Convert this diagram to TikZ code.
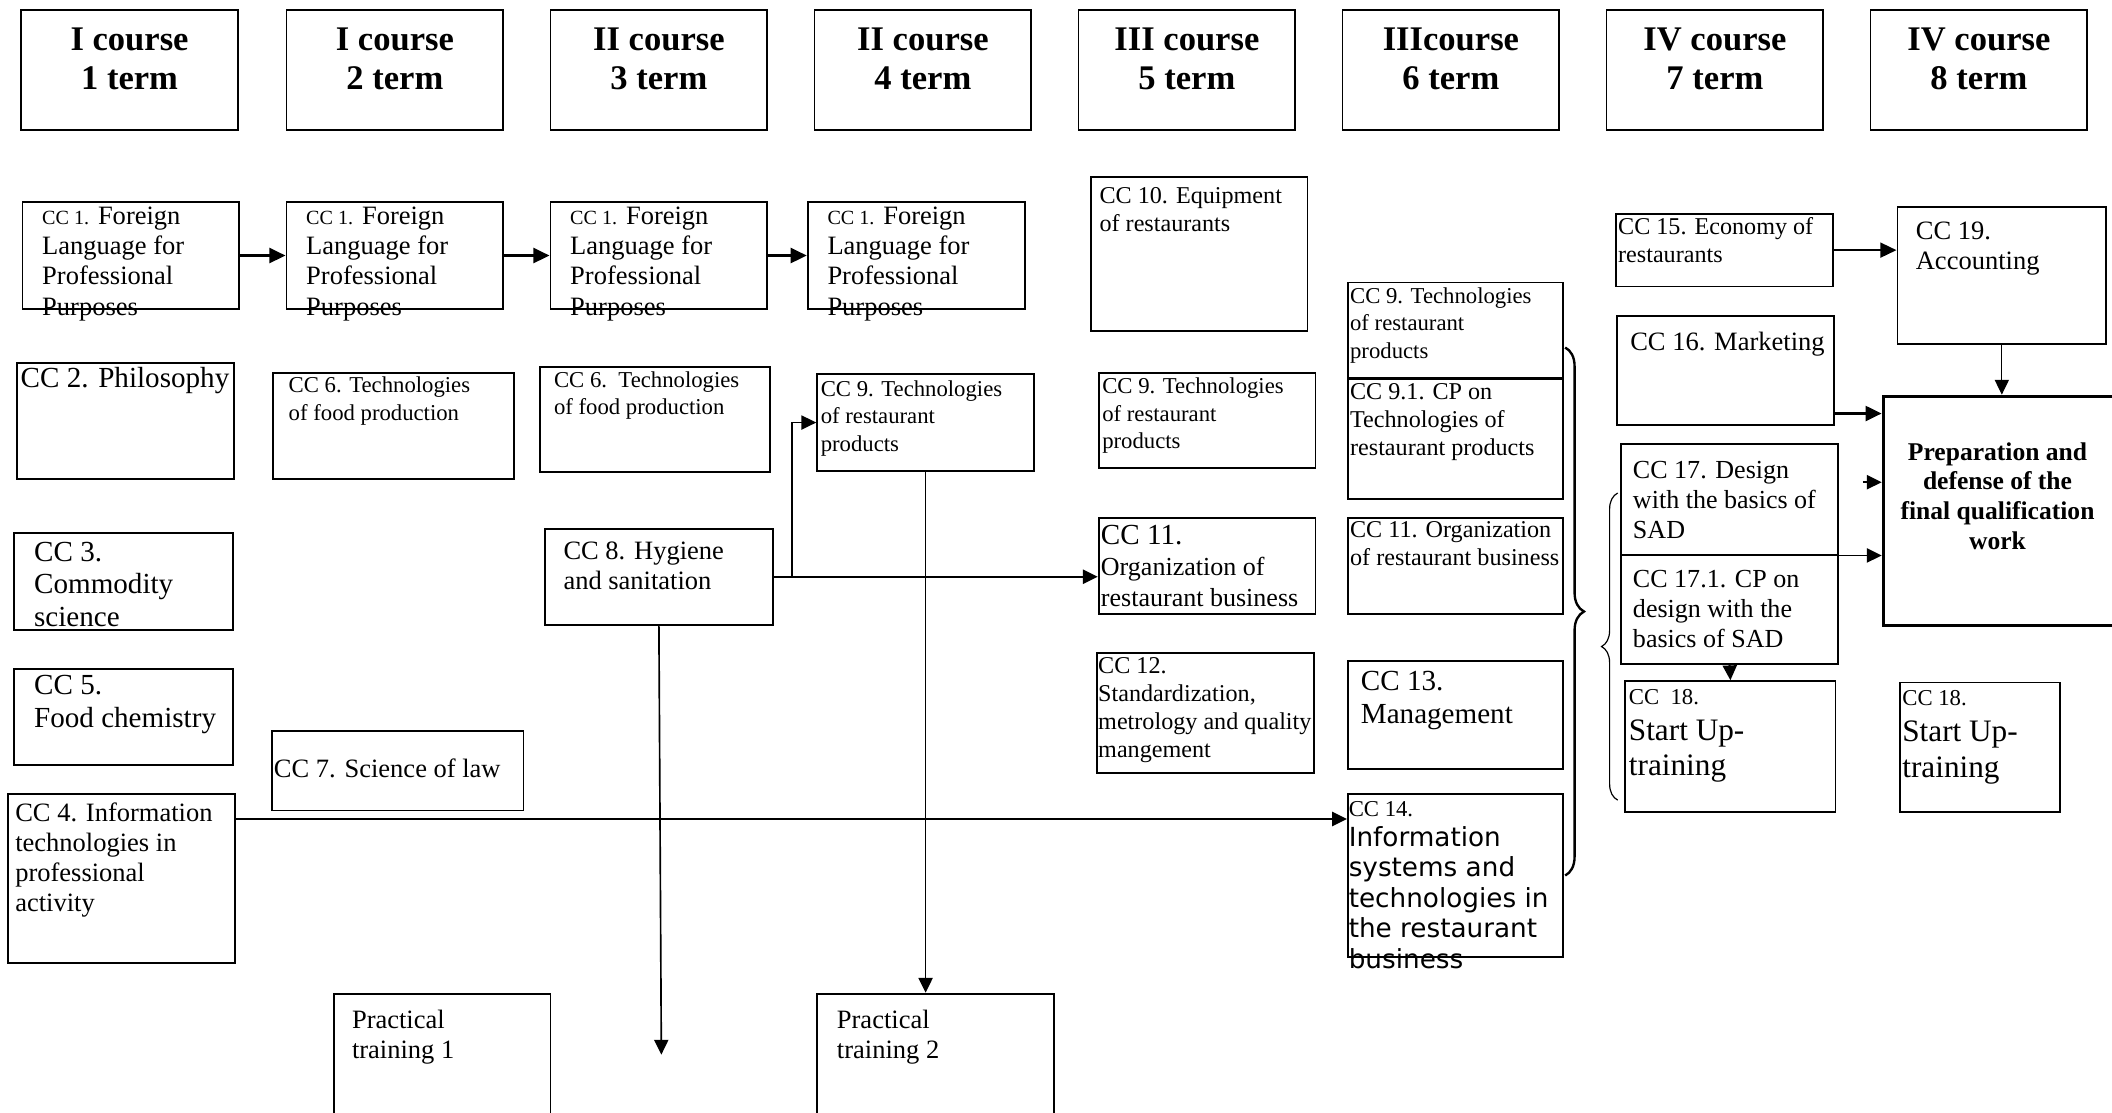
\documentclass[tikz,border=0pt]{standalone}
\usepackage{fontspec}
\setmainfont{Liberation Serif}
\newfontfamily\sansfam{DejaVu Sans}
\usetikzlibrary{arrows.meta}
\usetikzlibrary{decorations.pathreplacing}
\tikzset{box/.style = {draw, line width=0.8pt, anchor=north west, inner sep=0pt},
         hdr/.style = {box, minimum width=3.22cm, minimum height=1.78cm, align=center,
                       text depth=0.34cm, font=\bfseries\fontsize{14.6}{16.4}\selectfont},
         txt/.style = {anchor=base west, inner sep=0pt, align=left,
                       font=\fontsize{11.2}{12.8}\selectfont},
         smalltxt/.style = {txt, font=\fontsize{9.6}{11.6}\selectfont},
         medtxt/.style = {txt, font=\fontsize{10.2}{11.8}\selectfont},
         bigtxt/.style = {txt, font=\fontsize{12.3}{13.8}\selectfont},
         link/.style = {line width=0.7pt, -{Triangle[length=2.2mm, width=2.1mm]}},
         boldlink/.style = {line width=1.3pt, -{Triangle[length=2.4mm, width=2.2mm]}}}

\begin{document}
\begin{tikzpicture}[x=0.02cm, y=-0.02cm]
    \useasboundingbox (0,0) rectangle (1568,826);
    \clip (0,0) rectangle (1568,826);
    % terms
    \node [hdr] (hdr1) at (15,7) {I course\\1 term};
    \node [hdr] (hdr2) at (212,7) {I course\\2 term};
    \node [hdr] (hdr3) at (408,7) {II course\\3 term};
    \node [hdr] (hdr4) at (604,7) {II course\\4 term};
    \node [hdr] (hdr5) at (800,7) {III course\\5 term};
    \node [hdr] (hdr6) at (996,7) {IIIcourse\\6 term};
    \node [hdr] (hdr7) at (1192,7) {IV course\\7 term};
    \node [hdr] (hdr8) at (1388,7) {IV course\\8 term};

    % foreign language
    \node [box, minimum width=3.22cm, minimum height=1.6cm] (lang1) at (16,149) {};
    \node [box, minimum width=3.22cm, minimum height=1.6cm] (lang2) at (212,149) {};
    \node [box, minimum width=3.22cm, minimum height=1.6cm] (lang3) at (408,149) {};
    \node [box, minimum width=3.22cm, minimum height=1.6cm] (lang4) at (599,149) {};
    \node [txt] (lang1t) at (31,234) {{\fontsize{8.5}{10}\selectfont CC 1.} Foreign\\Language for\\Professional\\Purposes};
    \node [txt] (lang2t) at (227,234) {{\fontsize{8.5}{10}\selectfont CC 1.} Foreign\\Language for\\Professional\\Purposes};
    \node [txt] (lang3t) at (423,234) {{\fontsize{8.5}{10}\selectfont CC 1.} Foreign\\Language for\\Professional\\Purposes};
    \node [txt] (lang4t) at (614,234) {{\fontsize{8.5}{10}\selectfont CC 1.} Foreign\\Language for\\Professional\\Purposes};
    \draw [boldlink] (lang1.east) -- (lang2.west);
    \draw [boldlink] (lang2.east) -- (lang3.west);
    \draw [boldlink] (lang3.east) -- (lang4.west);

    % courses 1 and 2
    \node [box, minimum width=3.22cm, minimum height=1.72cm] (phil) at (12,269) {};
    \node [bigtxt] (philt) at (15,288) {CC 2. Philosophy};
    \node [box, minimum width=3.24cm, minimum height=1.44cm] (comm) at (10,395) {};
    \node [bigtxt] (commt) at (25,465) {CC 3.\\Commodity\\science};
    \node [box, minimum width=3.24cm, minimum height=1.42cm] (chem) at (10,496) {};
    \node [bigtxt] (chemt) at (25,540) {CC 5.\\Food chemistry};
    \node [box, minimum width=3.38cm, minimum height=2.5cm] (info) at (5,589) {};
    \node [txt] (infot) at (11,677) {CC 4. Information\\technologies in\\professional\\activity};
    \node [box, minimum width=3.58cm, minimum height=1.58cm] (food2) at (202,276) {};
    \node [smalltxt] (food2t) at (214,312) {CC 6. Technologies\\of food production};
    \node [box, minimum width=3.74cm, minimum height=1.18cm] (law) at (201,542) {};
    \node [txt] (lawt) at (203,577) {CC 7. Science of law};
    \node [box, minimum width=3.42cm, minimum height=1.56cm] (food3) at (400,272) {};
    \node [smalltxt] (food3t) at (411,308) {CC 6.\ \ Technologies\\of food production};
    \node [box, minimum width=3.38cm, minimum height=1.42cm] (hyg) at (404,392) {};
    \node [txt] (hygt) at (418,438) {CC 8. Hygiene\\and sanitation};
    \node [box, minimum width=3.22cm, minimum height=1.44cm] (tech4) at (606,277) {};
    \node [smalltxt] (tech4t) at (609,335) {CC 9. Technologies\\of restaurant\\products};
    \node [box, minimum width=3.22cm, minimum height=2cm] (prac1) at (247,737) {};
    \node [txt] (prac1t) at (261,786) {Practical\\training 1};
    \node [box, minimum width=3.52cm, minimum height=2cm] (prac2) at (606,737) {};
    \node [txt] (prac2t) at (621,786) {Practical\\training 2};

    % course 3
    \node [box, minimum width=3.22cm, minimum height=2.28cm] (equip) at (809,131) {};
    \node [medtxt] (equipt) at (816,172) {CC 10. Equipment\\of restaurants};
    \node [box, minimum width=3.22cm, minimum height=1.42cm] (tech5) at (815,276) {};
    \node [smalltxt] (tech5t) at (818,333) {CC 9. Technologies\\of restaurant\\products};
    \node [box, minimum width=3.22cm, minimum height=1.42cm] (org5) at (815,384) {};
    \node [txt, font=\fontsize{11}{13}\selectfont] (org5t) at (817,450) {{\fontsize{12.3}{14}\selectfont CC 11.}\\Organization of\\restaurant business};
    \node [box, minimum width=3.22cm, minimum height=1.78cm] (std) at (814,484) {};
    \node [medtxt] (stdt) at (815,562) {CC 12.\\Standardization,\\metrology and quality\\mangement};
    \node [box, minimum width=3.2cm, minimum height=1.42cm] (tech6) at (1000,209) {};
    \node [smalltxt] (tech6t) at (1002,266) {CC 9. Technologies\\of restaurant\\products};
    \node [box, minimum width=3.2cm, minimum height=1.78cm] (tech61) at (1000,281) {};
    \node [medtxt] (tech61t) at (1002,338) {CC 9.1. CP on\\Technologies of\\restaurant products};
    \node [box, minimum width=3.2cm, minimum height=1.42cm] (org6) at (1000,384) {};
    \node [medtxt] (org6t) at (1002,420) {CC 11. Organization\\of restaurant business};
    \node [box, minimum width=3.2cm, minimum height=1.6cm] (mgmt) at (1000,490) {};
    \node [bigtxt] (mgmtt) at (1010,537) {CC 13.\\Management};
    \node [box, minimum width=3.2cm, minimum height=2.42cm] (isys) at (1000,589) {};
    \node [smalltxt] (isyst) at (1001,606) {CC 14.};
    \node [txt, font=\sansfam\fontsize{11.1}{12.9}\selectfont] (isyst2) at (1001,719) {Information\\systems and\\technologies in\\the restaurant\\business};

    % course 4
    \node [box, minimum width=3.22cm, minimum height=1.08cm] (econ) at (1199,158) {};
    \node [medtxt] (econt) at (1201,195) {CC 15. Economy of\\restaurants};
    \node [box, minimum width=3.22cm, minimum height=1.62cm] (mkt) at (1200,234) {};
    \node [txt] (mktt) at (1210,260) {CC 16. Marketing};
    \node [box, minimum width=3.22cm, minimum height=1.64cm] (des) at (1203,329) {};
    \node [txt, font=\fontsize{11}{12.7}\selectfont] (dest) at (1212,400) {CC 17. Design\\with the basics of\\SAD};
    \node [box, minimum width=3.22cm, minimum height=1.62cm] (des1) at (1203,411) {};
    \node [txt, font=\fontsize{11}{12.7}\selectfont] (des1t) at (1212,481) {CC 17.1. CP on\\design with the\\basics of SAD};
    \node [box, minimum width=3.12cm, minimum height=1.94cm] (start7) at (1206,505) {};
    \node [smalltxt] (start7t) at (1209,523) {CC\ \ 18.};
    \node [txt, font=\fontsize{13.2}{15}\selectfont] (start7t2) at (1209,576) {Start Up-\\training};
    \node [box, minimum width=3.1cm, minimum height=2.04cm] (acc) at (1408,153) {};
    \node [txt] (acct) at (1422,200) {CC 19.\\Accounting};
    \node [box, line width=1.6pt, minimum width=3.6cm, minimum height=3.4cm] (prep) at (1397,293) {};
    \node [anchor=base, align=center, inner sep=0pt, font=\bfseries\fontsize{10.8}{12.6}\selectfont]
        (prept) at (1483,408) {Preparation and\\defense of the\\final qualification\\work};
    \node [box, minimum width=2.38cm, minimum height=1.92cm] (start8) at (1410,506) {};
    \node [smalltxt] (start8t) at (1412,524) {CC 18.};
    \node [txt, font=\fontsize{13.2}{15}\selectfont] (start8t2) at (1412,577) {Start Up-\\training};

    % links
    \coordinate (hygup) at (588,427.5);
    \coordinate (hygdown) at (491,783);
    \coordinate (infoout) at (174,608);
    \coordinate (mktout) at (1361,307);
    \coordinate (stub) at (1383,358);
    \draw [link] (hyg.east) -- (hyg.east -| org5.west);
    \draw [link] (hygup) |- (tech4.west);
    \draw [link] (hyg.south) -- (hygdown);
    \draw [link] (tech4.south) -- (tech4.south |- prac2.north);
    \draw [link, line width=0.9pt] (infoout) -- (infoout -| isys.west);
    \draw [boldlink, line width=1pt] (econ.east) -- (econ.east -| acc.west);
    \draw [link, line width=0.5pt] (acc.south) -- (acc.south |- prep.north);
    \draw [boldlink] (mktout) -- (mktout -| prep.west);
    \draw [link] (stub) -- (stub -| prep.west);
    \draw [link] (des.south east) -- (des.south east -| prep.west);
    \draw [link] (des1.south) -- (start7.north);

    % braces
    \draw [decorate, decoration={brace, amplitude=0.28cm}, line width=1pt] (1162,258) -- (1162,650);
    \draw [decorate, decoration={brace, amplitude=0.24cm}, line width=0.5pt] (1201,594) -- (1201,366);
  \end{tikzpicture}
\end{document}
